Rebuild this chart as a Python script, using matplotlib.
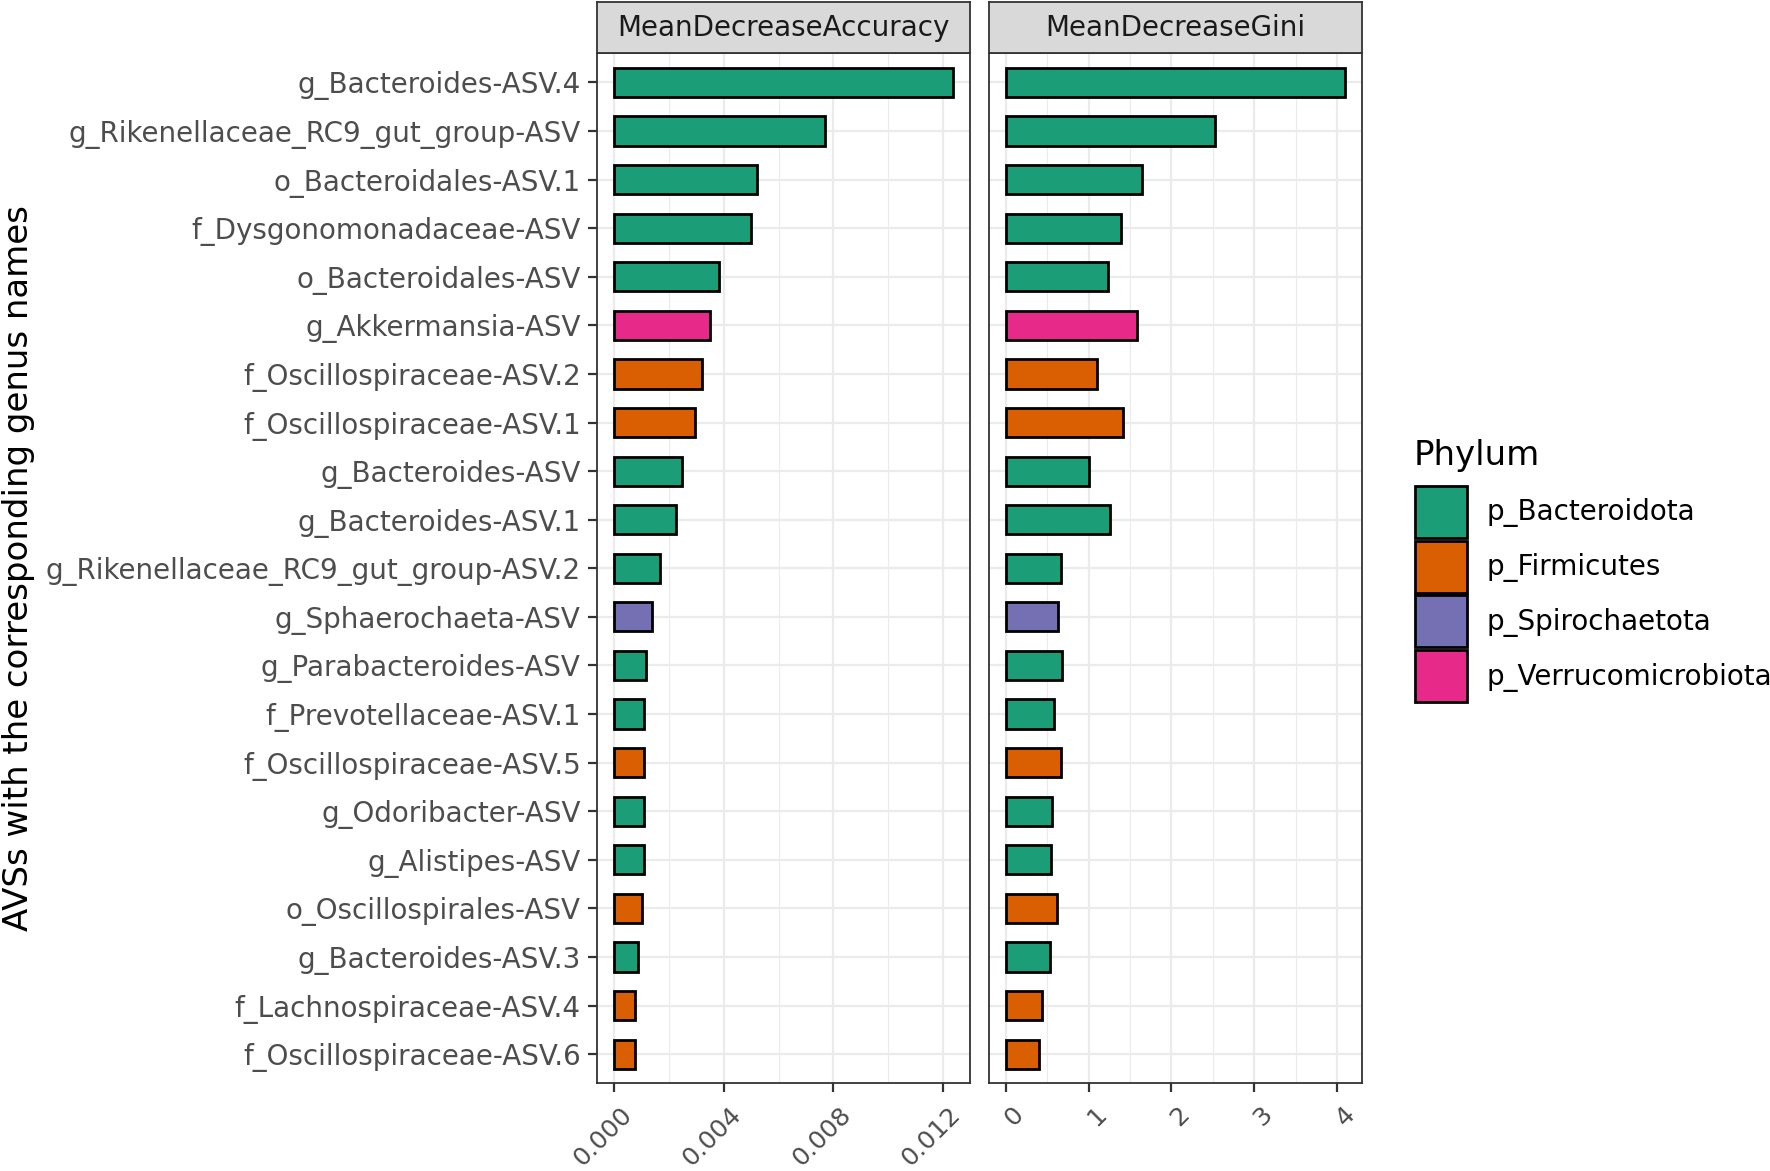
import numpy as np
import matplotlib
matplotlib.use("Agg")
import matplotlib.pyplot as plt
from matplotlib.patches import Patch
from matplotlib.ticker import MultipleLocator, FormatStrFormatter
from matplotlib.transforms import ScaledTranslation

plt.rcParams['font.family'] = ['DejaVu Sans']

# ASVs, top to bottom
asv_names = [
    "g_Bacteroides-ASV.4", "g_Rikenellaceae_RC9_gut_group-ASV", "o_Bacteroidales-ASV.1",
    "f_Dysgonomonadaceae-ASV", "o_Bacteroidales-ASV", "g_Akkermansia-ASV",
    "f_Oscillospiraceae-ASV.2", "f_Oscillospiraceae-ASV.1", "g_Bacteroides-ASV",
    "g_Bacteroides-ASV.1", "g_Rikenellaceae_RC9_gut_group-ASV.2", "g_Sphaerochaeta-ASV",
    "g_Parabacteroides-ASV", "f_Prevotellaceae-ASV.1", "f_Oscillospiraceae-ASV.5",
    "g_Odoribacter-ASV", "g_Alistipes-ASV", "o_Oscillospirales-ASV",
    "g_Bacteroides-ASV.3", "f_Lachnospiraceae-ASV.4", "f_Oscillospiraceae-ASV.6",
]
asv_phylum = [
    "p_Bacteroidota", "p_Bacteroidota", "p_Bacteroidota", "p_Bacteroidota", "p_Bacteroidota",
    "p_Verrucomicrobiota", "p_Firmicutes", "p_Firmicutes", "p_Bacteroidota", "p_Bacteroidota",
    "p_Bacteroidota", "p_Spirochaetota", "p_Bacteroidota", "p_Bacteroidota", "p_Firmicutes",
    "p_Bacteroidota", "p_Bacteroidota", "p_Firmicutes", "p_Bacteroidota", "p_Firmicutes",
    "p_Firmicutes",
]
mean_decrease_accuracy = [
    0.01237, 0.00768, 0.00520, 0.00499, 0.00381, 0.00348, 0.00319, 0.00295, 0.00248,
    0.00224, 0.00167, 0.00139, 0.00116, 0.00110, 0.00110, 0.00109, 0.00107, 0.00102,
    0.00085, 0.00075, 0.00075,
]
mean_decrease_gini = [
    4.095, 2.53, 1.65, 1.39, 1.234, 1.59, 1.10, 1.41, 1.00, 1.254, 0.665, 0.63, 0.677,
    0.58, 0.66, 0.56, 0.545, 0.617, 0.537, 0.44, 0.40,
]

phyla = ["p_Bacteroidota", "p_Firmicutes", "p_Spirochaetota", "p_Verrucomicrobiota"]
phylum_colors = {"p_Bacteroidota": "#1B9E77", "p_Firmicutes": "#D95F02",
                 "p_Spirochaetota": "#7570B3", "p_Verrucomicrobiota": "#E7298A"}

W, H = 1770, 1171
fig = plt.figure(figsize=(W / 100, H / 100), dpi=100)

n = len(asv_names)
ypos = np.arange(n)[::-1]
bar_colors = [phylum_colors[p] for p in asv_phylum]

panels = [
    ("MeanDecreaseAccuracy", mean_decrease_accuracy, 597.3, 0.004, 0.002, "%.3f"),
    ("MeanDecreaseGini", mean_decrease_gini, 989.0, 1, 0.5, "%d"),
]
ax_top, ax_bot = 53.3, 1083.3
ax_w = 372.7
strip_top = 1.7
txt = 20

for i, (title, vals, x0, major, minor, fmt) in enumerate(panels):
    ax = fig.add_axes([x0 / W, 1 - ax_bot / H, ax_w / W, (ax_bot - ax_top) / H])
    ax.barh(ypos, vals, height=0.6, color=bar_colors, edgecolor='black', linewidth=2.0, zorder=3)
    vmax = max(vals)
    ax.set_xlim(-0.05 * vmax, 1.05 * vmax)
    ax.set_ylim(-0.6, n - 1 + 0.6)
    ax.xaxis.set_major_locator(MultipleLocator(major))
    ax.xaxis.set_minor_locator(MultipleLocator(minor))
    ax.xaxis.set_major_formatter(FormatStrFormatter(fmt))
    ax.set_yticks(ypos)
    ax.grid(which='major', color='#EBEBEB', linewidth=1.6, zorder=0)
    ax.grid(which='minor', axis='x', color='#EBEBEB', linewidth=0.8, zorder=0)
    ax.set_axisbelow(True)
    for s in ax.spines.values():
        s.set_color('#333333')
        s.set_linewidth(1.3)
    ax.tick_params(axis='x', which='major', length=6.8, width=1.6, color='#333333',
                   labelsize=18.3, labelcolor='#4D4D4D', pad=7)
    ax.tick_params(axis='x', which='minor', length=0)
    if i == 0:
        ax.set_yticklabels(asv_names)
        ax.tick_params(axis='y', length=6.5, width=1.6, color='#333333',
                       labelsize=txt, labelcolor='#4D4D4D', pad=5.5)
    else:
        ax.tick_params(axis='y', length=0, labelleft=False)
    offset = ScaledTranslation(0.055, 0.0, fig.dpi_scale_trans)
    for lab in ax.get_xticklabels():
        lab.set_rotation(45)
        lab.set_ha('right')
        lab.set_va('top')
        lab.set_rotation_mode('anchor')
        lab.set_transform(lab.get_transform() + offset)

    # facet strip
    sax = fig.add_axes([x0 / W, 1 - ax_top / H, ax_w / W, (ax_top - strip_top) / H])
    sax.set_xticks([])
    sax.set_yticks([])
    sax.set_facecolor('#D9D9D9')
    for s in sax.spines.values():
        s.set_color('#333333')
        s.set_linewidth(1.3)
    sax.text(0.5, 0.5, title, ha='center', va='center', fontsize=txt,
             color='#1A1A1A', transform=sax.transAxes)

fig.text(19 / W, 1 - (ax_top + ax_bot) / 2 / H, "AVSs with the corresponding genus names",
         rotation=90, ha='center', va='center', fontsize=24.5, color='black')

# legend
fig.text(1414 / W, 1 - 465 / H, "Phylum", ha='left', va='baseline', fontsize=24.5, color='black')
handles = [Patch(facecolor=phylum_colors[p], edgecolor='black', linewidth=2.0) for p in phyla]
leg = fig.legend(handles, phyla, loc='upper left', bbox_to_anchor=(1415 / W, 1 - 486 / H),
                 frameon=False, fontsize=txt,
                 handlelength=1.87, handleheight=2.5, labelspacing=0.1,
                 handletextpad=0.7, borderaxespad=0, borderpad=0)

fig.savefig("out.png", dpi=100)
